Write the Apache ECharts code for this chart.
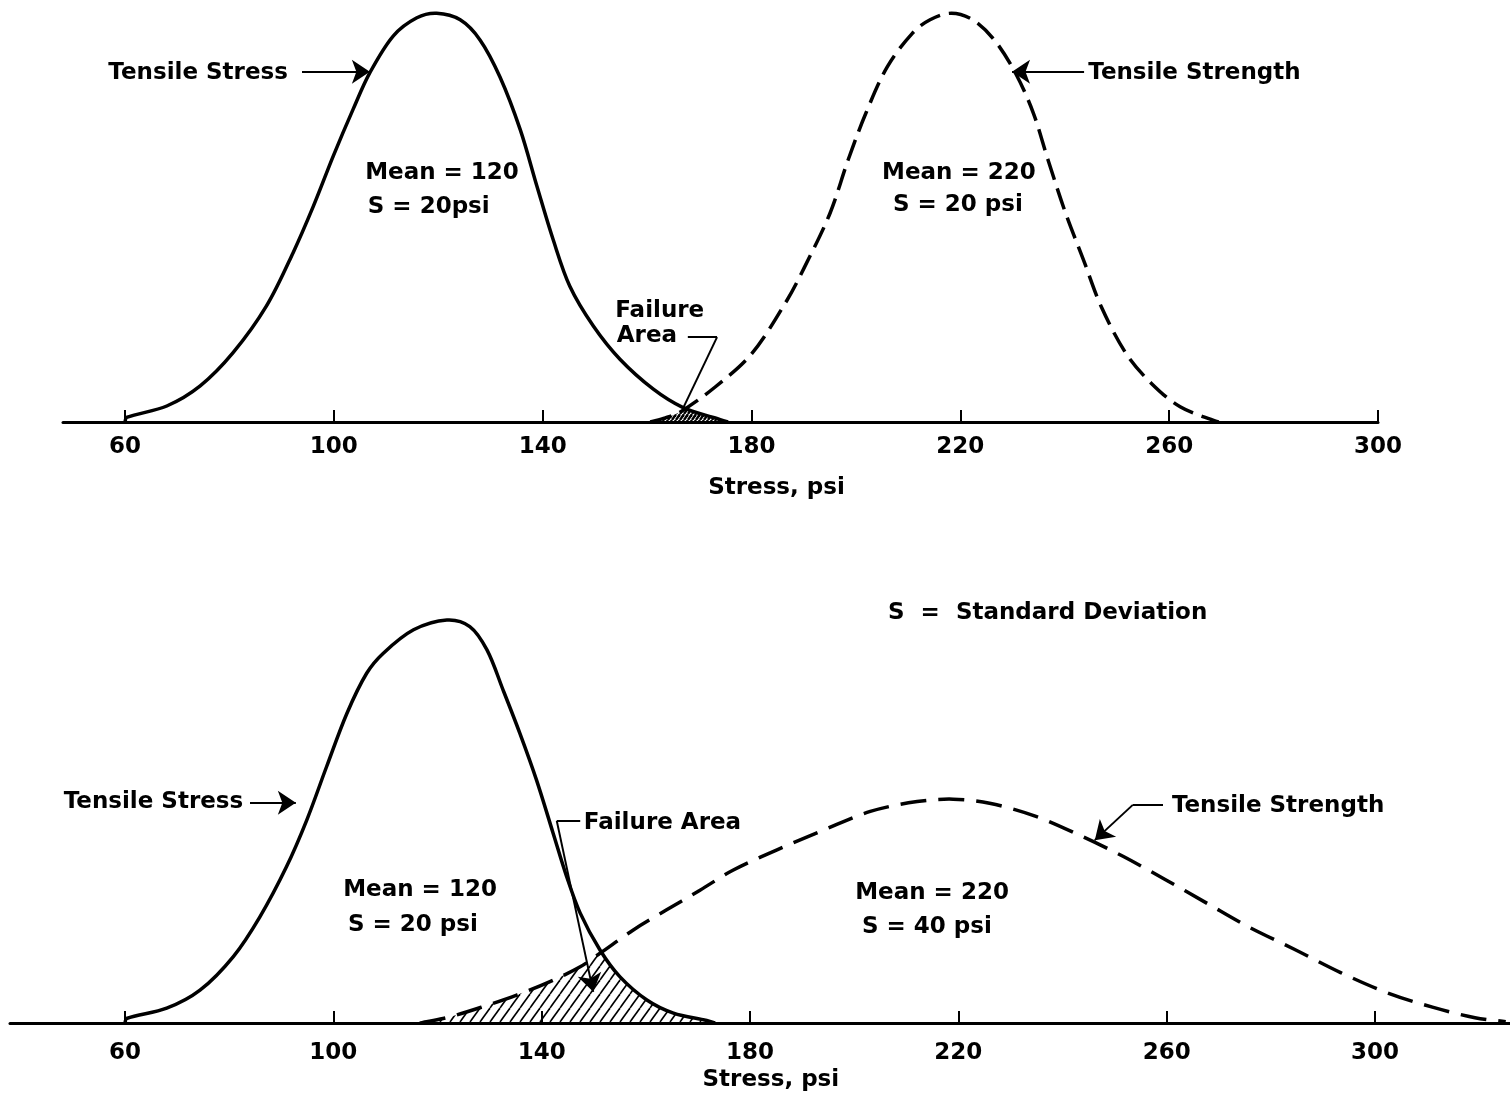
<!DOCTYPE html>
<html>
<head>
<meta charset="utf-8">
<script src="https://cdn.jsdelivr.net/npm/echarts@6/dist/echarts.min.js"></script>
<style>
  html, body { margin: 0; padding: 0; background: #fff; }
  #chart { width: 1510px; height: 1094px; }
</style>
</head>
<body>
<div id="chart"></div>
<script>
// Stress axis ticks, psi
const stressTicks = [60, 100, 140, 180, 220, 260, 300];

// Upper diagram: stress (mean 120, S 20) against strength (mean 220, S 20)
// points are [stress psi, relative frequency]
const upperStress = [
  [60.0, 0], [60.3, 1.1], [68.0, 3.9], [74.4, 8.8], [80.7, 16.9], [87.1, 28.3],
  [92.2, 41.3], [96.1, 52.7], [99.9, 64.9], [103.7, 76.3], [106.9, 85.2],
  [111.4, 94.2], [115.9, 98.6], [119.7, 99.7], [124.2, 98.1], [128.0, 93.2],
  [131.8, 84.2], [135.7, 71.3], [138.9, 57.5], [142.0, 44.5], [145.2, 33.1],
  [149.7, 23.4], [154.8, 15.3], [161.2, 8.0], [166.9, 3.5], [172.7, 1.1], [175.5, 0]
];
const upperStrength = [
  [160.6, 0], [163.5, 1.0], [166.3, 2.4], [173.1, 8.6], [180.0, 16.6], [186.8, 29.7],
  [190.2, 37.9], [195.0, 50.8], [198.5, 63.9], [201.9, 75.3], [206.0, 86.6],
  [210.8, 94.8], [214.2, 98.1], [218.3, 99.7], [222.4, 98.1], [226.5, 93.2],
  [230.6, 85.0], [234.0, 75.3], [236.8, 63.9], [240.2, 50.8], [243.6, 39.5],
  [247.0, 28.1], [251.8, 16.6], [256.6, 9.4], [262.1, 3.7], [268.9, 0.2], [269.5, 0]
];
const upperCross = [167.3, 3.2];

// Lower diagram: stress (mean 120, S 20) against strength (mean 220, S 40)
const lowerStress = [
  [60.0, 0], [60.3, 1.1], [68.0, 3.6], [74.4, 8.0], [80.8, 16.2], [85.9, 25.9],
  [91.0, 38.1], [94.9, 49.5], [98.7, 62.5], [102.6, 75.5], [106.4, 85.3],
  [109.6, 90.2], [115.4, 95.9], [121.8, 98.3], [126.2, 96.7], [129.5, 91.0],
  [132.6, 81.2], [135.8, 70.7], [139.0, 59.3], [142.2, 46.3], [144.8, 35.7],
  [147.4, 26.8], [151.2, 17.8], [155.0, 11.3], [160.2, 5.6], [165.3, 2.4],
  [171.7, 0.6], [173.3, 0]
];
const lowerStrength = [
  [116.6, 0], [117.9, 0.3], [122.4, 1.5], [128.8, 4.0], [135.2, 6.8], [141.6, 10.1],
  [147.4, 13.7], [151.2, 17.0], [157.6, 22.7], [164.0, 27.6], [170.4, 32.4],
  [176.8, 37.3], [185.3, 42.3], [194.2, 47.1], [203.1, 51.6], [212.1, 54.0],
  [219.0, 54.6], [226.0, 53.6], [234.9, 50.4], [243.8, 45.5], [251.7, 40.6],
  [259.7, 35.0], [267.6, 29.3], [275.5, 23.6], [284.5, 18.0], [293.4, 12.3],
  [302.3, 7.4], [311.2, 3.8], [319.2, 1.3], [325.1, 0.3]
];
const lowerCross = [151.4, 17.2];

// Text notes, in data units of each diagram
const upperNotes = [
  { name: 'Tensile Stress', value: [91.2, 85.1], side: 'left' },
  { name: 'Tensile Strength', value: [244.5, 85.1], side: 'right' },
  { name: 'Mean = 120', value: [106.0, 60.7], side: 'right' },
  { name: 'S = 20psi', value: [106.5, 52.4], side: 'right' },
  { name: 'Mean = 220', value: [205.0, 60.7], side: 'right' },
  { name: 'S = 20 psi', value: [207.1, 52.9], side: 'right' },
  { name: 'Failure', value: [153.9, 27.1], side: 'right' },
  { name: 'Area', value: [154.2, 21.0], side: 'right' }
];
const lowerNotes = [
  { name: 'S  =  Standard Deviation', value: [206.5, 100.0], side: 'right' },
  { name: 'Tensile Stress', value: [82.7, 53.9], side: 'left' },
  { name: 'Failure Area', value: [148.1, 48.8], side: 'right' },
  { name: 'Tensile Strength', value: [261.0, 52.9], side: 'right' },
  { name: 'Mean = 120', value: [101.9, 32.4], side: 'right' },
  { name: 'S = 20 psi', value: [102.8, 23.9], side: 'right' },
  { name: 'Mean = 220', value: [200.2, 31.7], side: 'right' },
  { name: 'S = 40 psi', value: [201.5, 23.4], side: 'right' },
  { name: 'Stress, psi', value: [184.0, -13.9], side: 'inside' }
];

// Leader lines: plain segments and segments ending in an arrowhead
const upperLeaders = [[[167.8, 20.7], [173.4, 20.7]], [[173.4, 20.7], [166.9, 3.4]]];
const upperArrows = [[[93.9, 85.4], [106.9, 85.4]], [[243.7, 85.4], [229.9, 85.4]]];
const lowerLeaders = [[[147.4, 49.3], [142.9, 49.3]], [[259.3, 53.2], [253.5, 53.2]]];
const lowerArrows = [
  [[84.0, 53.7], [92.8, 53.7]],
  [[142.9, 49.3], [149.9, 7.6]],
  [[253.5, 53.2], [246.2, 44.6]]
];

const FONT = 'DejaVu Sans';
const INK = '#000';

// Diagonal hatch tile for the failure areas
function hatch(w, h, lw) {
  const c = document.createElement('canvas');
  c.width = w; c.height = h;
  const g = c.getContext('2d');
  g.strokeStyle = INK; g.lineWidth = lw;
  for (const dx of [-w, 0, w]) {
    g.beginPath(); g.moveTo(dx, h); g.lineTo(dx + w, 0); g.stroke();
  }
  return c;
}

function failureBoundary(strength, stress, cross) {
  return strength.filter(p => p[0] < cross[0])
    .concat([cross])
    .concat(stress.filter(p => p[0] > cross[0]));
}

// Smooth cubic path through pixel points (tangent from neighbours,
// handle lengths proportional to the adjacent chords)
function splinePath(px, base) {
  const n = px.length;
  const f = v => v.toFixed(2);
  const handles = px.map((p, i) => {
    const a = px[Math.max(i - 1, 0)], b = px[Math.min(i + 1, n - 1)];
    const dp = Math.hypot(p[0] - a[0], p[1] - a[1]);
    const dn = Math.hypot(b[0] - p[0], b[1] - p[1]);
    const s = (dp + dn) || 1;
    const tx = b[0] - a[0], ty = b[1] - a[1];
    return {
      inX: p[0] - tx * dp / s / 3, inY: Math.min(p[1] - ty * dp / s / 3, base),
      outX: p[0] + tx * dn / s / 3, outY: Math.min(p[1] + ty * dn / s / 3, base)
    };
  });
  let d = 'M' + f(px[0][0]) + ' ' + f(px[0][1]);
  for (let i = 0; i < n - 1; i++) {
    const h0 = handles[i], h1 = handles[i + 1], q = px[i + 1];
    d += ' C' + f(h0.outX) + ' ' + f(h0.outY) + ' ' + f(h1.inX) + ' ' + f(h1.inY) +
         ' ' + f(q[0]) + ' ' + f(q[1]);
  }
  return d;
}

function xAxisFor(idx, min, max, labelMargin, withName) {
  return {
    type: 'value', gridIndex: idx, min: min, max: max,
    name: withName ? 'Stress, psi' : '', nameLocation: 'middle', nameGap: 55,
    nameTextStyle: {
      color: INK, fontFamily: FONT, fontSize: 23, fontWeight: 'bold',
      padding: [0, 0, 0, 112]
    },
    axisLine: { show: true, lineStyle: { color: INK, width: 3 } },
    axisTick: {
      show: true, inside: true, length: 12, customValues: stressTicks,
      lineStyle: { color: INK, width: 2 }
    },
    axisLabel: {
      show: true, customValues: stressTicks, margin: labelMargin,
      color: INK, fontFamily: FONT, fontSize: 23, fontWeight: 'bold'
    },
    splitLine: { show: false }
  };
}

function yAxisFor(idx) {
  return { type: 'value', gridIndex: idx, min: 0, max: 100, show: false };
}

function curve(data, idx, dash) {
  return {
    type: 'custom', coordinateSystem: 'cartesian2d', xAxisIndex: idx, yAxisIndex: idx,
    data: data, encode: { x: 0, y: 1 }, clip: false, silent: true, z: 3,
    renderItem: (params, api) => {
      if (params.dataIndex !== 0) return null;
      const px = data.map(p => api.coord(p));
      const base = api.coord([0, 0])[1];
      return {
        type: 'path', silent: true,
        shape: { pathData: splinePath(px, base) },
        style: {
          fill: 'none', stroke: INK, lineWidth: 3.5, lineCap: 'butt',
          lineDash: dash || null
        }
      };
    }
  };
}

function failureArea(data, idx, tile) {
  return {
    type: 'custom', coordinateSystem: 'cartesian2d', xAxisIndex: idx, yAxisIndex: idx,
    data: data, encode: { x: 0, y: 1 }, clip: false, silent: true, z: 2,
    renderItem: (params, api) => {
      if (params.dataIndex !== 0) return null;
      const px = data.map(p => api.coord(p));
      const base = api.coord([0, 0])[1];
      const last = px[px.length - 1], first = px[0];
      const d = splinePath(px, base) + ' L' + last[0].toFixed(2) + ' ' + base.toFixed(2) +
        ' L' + first[0].toFixed(2) + ' ' + base.toFixed(2) + ' Z';
      return {
        type: 'path', silent: true,
        shape: { pathData: d },
        style: { fill: { image: tile, repeat: 'repeat' }, stroke: null }
      };
    }
  };
}

function notes(items, idx) {
  return {
    type: 'scatter', xAxisIndex: idx, yAxisIndex: idx,
    symbolSize: 0, itemStyle: { color: INK }, silent: true, clip: false,
    label: {
      show: true, formatter: '{b}', distance: 0, color: INK, opacity: 1,
      fontFamily: FONT, fontSize: 23, fontWeight: 'bold'
    },
    data: items.map(n => ({ name: n.name, value: n.value, label: { position: n.side } })),
    z: 5
  };
}

function leaders(segs, idx, arrow) {
  return {
    type: 'lines', coordinateSystem: 'cartesian2d', xAxisIndex: idx, yAxisIndex: idx,
    symbol: arrow ? ['none', 'arrow'] : ['none', 'none'],
    symbolSize: arrow ? [11, 18] : 0,
    lineStyle: { color: INK, width: 2, opacity: 1, curveness: 0 },
    data: segs.map(s => ({ coords: s })),
    silent: true, z: 6
  };
}

const chart = echarts.init(document.getElementById('chart'), null, { renderer: 'canvas' });

chart.setOption({
  backgroundColor: '#fff',
  animation: false,
  grid: [
    { left: 63, right: 132, top: 12, bottom: 672 },
    { left: 10, right: 0, top: 613, bottom: 71 }
  ],
  xAxis: [
    xAxisFor(0, 48.12, 300, 14, true),
    xAxisFor(1, 37.92, 325.92, 19, false)
  ],
  yAxis: [yAxisFor(0), yAxisFor(1)],
  series: [
    failureArea(failureBoundary(upperStrength, upperStress, upperCross), 0, hatch(4, 6, 2.4)),
    failureArea(failureBoundary(lowerStrength, lowerStress, lowerCross), 1, hatch(10, 14, 1.6)),
    curve(upperStress, 0, null),
    curve(upperStrength, 0, [22, 9]),
    curve(lowerStress, 1, null),
    curve(lowerStrength, 1, [26, 12]),
    notes(upperNotes, 0),
    notes(lowerNotes, 1),
    leaders(upperLeaders, 0, false),
    leaders(upperArrows, 0, true),
    leaders(lowerLeaders, 1, false),
    leaders(lowerArrows, 1, true)
  ]
});
</script>
</body>
</html>
